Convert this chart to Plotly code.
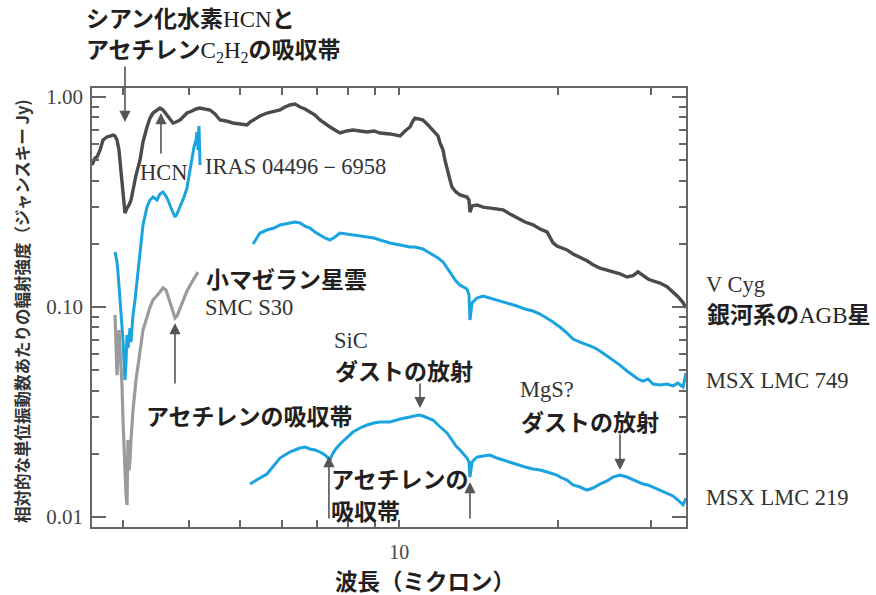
import numpy as np
import plotly.graph_objects as go

# ---- spectra: wavelength (micron) and relative flux density (Jy) ----
VCYG_WL = [2.617, 2.651, 2.675, 2.710, 2.746, 2.770, 2.794, 2.831, 2.868, 2.893,
           2.919, 2.944, 2.957, 2.983, 2.996, 3.022, 3.049, 3.076, 3.103, 3.130,
           3.171, 3.227, 3.269, 3.327, 3.371, 3.415, 3.475, 3.521, 3.568, 3.614,
           3.646, 3.694, 3.727, 3.776, 3.842, 3.910, 3.961, 4.049, 4.120, 4.193,
           4.285, 4.380, 4.476, 4.575, 4.696, 4.842, 4.992, 5.147, 5.215, 5.284,
           5.447, 5.616, 5.791, 5.944, 6.075, 6.209, 6.346, 6.487, 6.630, 6.776,
           6.925, 7.078, 7.234, 7.394, 7.557, 7.724, 7.963, 8.174, 8.428, 8.690,
           8.959, 9.197, 9.607, 10.04, 10.26, 10.48, 10.62, 10.71, 10.90, 11.09,
           11.34, 11.59, 11.85, 11.95, 12.11, 12.21, 12.32, 12.48, 12.59, 12.81,
           13.04, 13.27, 13.44, 13.56, 13.62, 13.74, 14.04, 14.42, 14.86, 15.32,
           15.73, 16.22, 16.72, 17.32, 17.93, 18.49, 19.06, 19.31, 19.57, 19.91,
           20.17, 20.80, 21.35, 22.01, 22.70, 23.30, 24.02, 24.77, 25.42, 26.21,
           27.02, 27.74, 28.35, 28.98, 29.62, 30.27, 31.21, 32.18, 33.03, 33.76,
           34.51, 34.96]
VCYG_F = [0.474, 0.512, 0.518, 0.559, 0.624, 0.638, 0.645, 0.652, 0.659, 0.652,
          0.624, 0.559, 0.501, 0.403, 0.334, 0.280, 0.296, 0.306, 0.323, 0.361,
          0.425, 0.501, 0.611, 0.720, 0.794, 0.839, 0.867, 0.886, 0.867, 0.830,
          0.803, 0.769, 0.752, 0.760, 0.777, 0.812, 0.839, 0.858, 0.877, 0.886,
          0.877, 0.867, 0.830, 0.777, 0.769, 0.752, 0.744, 0.736, 0.760, 0.777,
          0.812, 0.839, 0.858, 0.867, 0.896, 0.916, 0.926, 0.896, 0.877, 0.848,
          0.821, 0.777, 0.744, 0.720, 0.696, 0.674, 0.689, 0.696, 0.689, 0.681,
          0.689, 0.674, 0.667, 0.652, 0.689, 0.720, 0.769, 0.794, 0.786, 0.777,
          0.736, 0.696, 0.652, 0.604, 0.559, 0.501, 0.464, 0.403, 0.373, 0.353,
          0.342, 0.338, 0.334, 0.323, 0.283, 0.303, 0.306, 0.299, 0.296, 0.293,
          0.290, 0.277, 0.265, 0.254, 0.246, 0.235, 0.228, 0.213, 0.202, 0.195,
          0.193, 0.187, 0.179, 0.173, 0.166, 0.159, 0.153, 0.150, 0.147, 0.144,
          0.139, 0.141, 0.147, 0.142, 0.136, 0.133, 0.130, 0.125, 0.118, 0.112,
          0.105, 0.099]

# MSX LMC 749: L-band segment and mid-infrared segment
LMC749_L_WL = [2.893, 2.906, 2.919, 2.931, 2.944, 2.957, 2.970, 2.983, 2.996, 3.009,
               3.022, 3.036, 3.049, 3.062, 3.076, 3.089, 3.103, 3.116, 3.130, 3.157,
               3.185, 3.227, 3.269, 3.327, 3.371, 3.415, 3.475, 3.521, 3.568, 3.614,
               3.646, 3.694, 3.727, 3.759, 3.792, 3.842, 3.910, 3.961, 4.014, 4.049,
               4.084, 4.120, 4.138, 4.156, 4.174, 4.193]
LMC749_L_F = [0.1828, 0.1749, 0.1638, 0.1467, 0.1273, 0.1116, 0.0968, 0.0848, 0.0696, 0.0559,
              0.0449, 0.0547, 0.0735, 0.0638, 0.0760, 0.0794, 0.0681, 0.0812, 0.0916, 0.1080,
              0.1344, 0.1868, 0.2457, 0.2993, 0.3232, 0.3340, 0.3232, 0.3452, 0.3529, 0.3377,
              0.3232, 0.2961, 0.2803, 0.2683, 0.2772, 0.2993, 0.3340, 0.3687, 0.4491, 0.5294,
              0.5780, 0.6241, 0.6813, 0.5593, 0.7276, 0.4745]
LMC749_IR_WL = [5.284, 5.447, 5.616, 5.791, 5.944, 6.075, 6.209, 6.346, 6.487, 6.630,
                6.776, 6.925, 7.078, 7.234, 7.394, 7.557, 7.724, 7.963, 8.174, 8.428,
                8.690, 8.959, 9.197, 9.607, 10.04, 10.48, 10.71, 11.09, 11.34, 11.59,
                11.85, 12.11, 12.32, 12.59, 12.81, 13.04, 13.27, 13.44, 13.56, 13.62,
                13.74, 14.04, 14.42, 14.86, 15.32, 15.73, 16.22, 16.72, 17.32, 17.93,
                18.49, 19.06, 19.57, 19.91, 20.17, 20.80, 21.35, 22.01, 22.70, 23.30,
                24.02, 24.77, 25.42, 26.21, 27.02, 27.74, 28.35, 28.98, 29.62, 30.27,
                31.21, 32.18, 33.03, 33.76, 34.51, 34.96]
LMC749_IR_F = [0.1995, 0.2251, 0.2326, 0.2378, 0.2457, 0.2484, 0.2512, 0.2540, 0.2512, 0.2430,
               0.2378, 0.2276, 0.2202, 0.2131, 0.2085, 0.2154, 0.2251, 0.2226, 0.2202, 0.2178,
               0.2154, 0.2131, 0.2085, 0.2017, 0.1973, 0.1931, 0.1931, 0.1889, 0.1828, 0.1768,
               0.1711, 0.1638, 0.1534, 0.1405, 0.1330, 0.1273, 0.1245, 0.1218, 0.1141, 0.0867,
               0.1045, 0.1104, 0.1128, 0.1104, 0.1080, 0.1056, 0.1033, 0.1011, 0.0978, 0.0957,
               0.0926, 0.0886, 0.0848, 0.0821, 0.0803, 0.0752, 0.0704, 0.0681, 0.0659, 0.0645,
               0.0617, 0.0584, 0.0559, 0.0529, 0.0496, 0.0474, 0.0454, 0.0444, 0.0454, 0.0430,
               0.0425, 0.0430, 0.0421, 0.0434, 0.0416, 0.0485]

# SMC S30 (L-band only)
SMC30_WL = [2.893, 2.906, 2.919, 2.931, 2.944, 2.957, 2.983, 2.996, 3.009, 3.022,
            3.036, 3.049, 3.062, 3.076, 3.089, 3.103, 3.130, 3.171, 3.227, 3.269,
            3.327, 3.371, 3.415, 3.475, 3.521, 3.568, 3.614, 3.646, 3.694, 3.727,
            3.759, 3.792, 3.842, 3.910, 3.961, 4.049, 4.120, 4.156]
SMC30_F = [0.0916, 0.0696, 0.0474, 0.0659, 0.0777, 0.0624, 0.0425, 0.0290, 0.0209, 0.0167,
           0.0127, 0.0114, 0.0233, 0.0167, 0.0187, 0.0233, 0.0323, 0.0449, 0.0624, 0.0777,
           0.0896, 0.1000, 0.1080, 0.1128, 0.1179, 0.1232, 0.1205, 0.1128, 0.1022, 0.0936,
           0.0886, 0.0906, 0.0989, 0.1104, 0.1192, 0.1315, 0.1405, 0.1467]

# MSX LMC 219 (mid-infrared)
LMC219_WL = [5.215, 5.284, 5.447, 5.616, 5.791, 5.944, 6.075, 6.209, 6.346, 6.487,
             6.630, 6.776, 6.925, 7.078, 7.234, 7.330, 7.394, 7.459, 7.557, 7.724,
             7.963, 8.174, 8.428, 8.690, 8.959, 9.197, 9.607, 10.04, 10.48, 10.71,
             10.90, 11.09, 11.34, 11.59, 11.85, 12.11, 12.32, 12.59, 12.81, 13.04,
             13.27, 13.44, 13.56, 13.62, 13.74, 14.04, 14.42, 14.86, 15.32, 15.73,
             16.22, 16.72, 17.32, 17.93, 18.49, 19.06, 19.57, 19.91, 20.17, 20.80,
             21.35, 22.01, 22.70, 23.30, 24.02, 24.77, 25.42, 26.21, 27.02, 27.74,
             28.35, 28.98, 29.62, 30.27, 31.21, 32.18, 33.03, 33.76, 34.51, 34.96]
LMC219_F = [0.01436, 0.01468, 0.01533, 0.01603, 0.01768, 0.01909, 0.01973, 0.02040, 0.02085, 0.02131,
            0.02154, 0.02108, 0.02085, 0.02040, 0.01973, 0.01909, 0.01868, 0.01973, 0.02085, 0.02226,
            0.02404, 0.02539, 0.02654, 0.02742, 0.02803, 0.02834, 0.02834, 0.02929, 0.02994, 0.03027,
            0.03061, 0.03027, 0.02961, 0.02897, 0.02742, 0.02596, 0.02512, 0.02327, 0.02178, 0.02085,
            0.01973, 0.01909, 0.01828, 0.01550, 0.01828, 0.01930, 0.01952, 0.01973, 0.01909, 0.01868,
            0.01828, 0.01788, 0.01730, 0.01692, 0.01675, 0.01638, 0.01603, 0.01585, 0.01550, 0.01500,
            0.01420, 0.01389, 0.01344, 0.01374, 0.01436, 0.01484, 0.01550, 0.01585, 0.01550, 0.01500,
            0.01468, 0.01436, 0.01420, 0.01389, 0.01344, 0.01300, 0.01260, 0.01205, 0.01141, 0.01232]

X_TICKS = [3, 4, 5, 6, 7, 8, 9, 10, 20, 30]
X_TICK_TEXT = ["", "", "", "", "", "", "", "10", "", ""]
Y_TICKS = [0.01, 0.1, 1.0]
Y_TICK_TEXT = ["0.01", "0.10", "1.00"]
Y_MINOR = [0.02, 0.03, 0.04, 0.05, 0.06, 0.07, 0.08, 0.09,
           0.2, 0.3, 0.4, 0.5, 0.6, 0.7, 0.8, 0.9]

DARK = "#4b4b4d"
BLUE = "#1ba3df"
LIGHT = "#9b9b9d"
AXIS = "#666666"
SERIF = "Liberation Serif"
GOTHIC = "Noto Sans CJK JP"

fig = go.Figure()
fig.add_trace(go.Scatter(x=VCYG_WL, y=VCYG_F, mode="lines",
                         line=dict(color=DARK, width=3.4), name="V Cyg"))
fig.add_trace(go.Scatter(x=LMC749_L_WL, y=LMC749_L_F, mode="lines",
                         line=dict(color=BLUE, width=3), name="MSX LMC 749"))
fig.add_trace(go.Scatter(x=LMC749_IR_WL, y=LMC749_IR_F, mode="lines",
                         line=dict(color=BLUE, width=3), name="MSX LMC 749"))
fig.add_trace(go.Scatter(x=SMC30_WL, y=SMC30_F, mode="lines",
                         line=dict(color=LIGHT, width=3.2), name="SMC S30"))
fig.add_trace(go.Scatter(x=LMC219_WL, y=LMC219_F, mode="lines",
                         line=dict(color=BLUE, width=3), name="MSX LMC 219"))

L, R, T, B = 92, 190, 88, 68
W, H = 876, 595
PW, PH = W - L - R, H - T - B


def px(xp):
    return (xp - L) / PW


def py(yp):
    return (H - B - yp) / PH


def serif(s):
    return "<span style=\"font-family:'%s'\">%s</span>" % (SERIF, s)


def label(xp, yp, text, size=23, color="#231f20", family=GOTHIC, **kw):
    fig.add_annotation(x=px(xp), y=py(yp), xref="paper", yref="paper",
                       text=text, showarrow=False, xanchor=kw.pop("xanchor", "left"),
                       yanchor="middle", font=dict(family=family, size=size, color=color),
                       **kw)


SERIF_SIZE = 22.5

# Japanese captions (bold gothic) mixed with serif chemical names
label(84, 17, "<b>シアン化水素</b>" + serif("HCN") + "<b>と</b>")
label(84, 49, "<b>アセチレン</b>" + serif("C<sub>2</sub>H<sub>2</sub>") + "<b>の吸収帯</b>")
label(138, 172, "HCN", size=SERIF_SIZE, color="#333", family=SERIF)
label(203, 166, "IRAS 04496－6958", size=SERIF_SIZE, color="#333", family=SERIF)
label(204, 278, "<b>小マゼラン星雲</b>")
label(203, 307, "SMC S30", size=SERIF_SIZE, color="#333", family=SERIF)
label(144, 415, "<b>アセチレンの吸収帯</b>")
label(332, 340, "SiC", size=SERIF_SIZE, color="#333", family=SERIF)
label(333, 370, "<b>ダストの放射</b>")
label(518, 389, "MgS?", size=SERIF_SIZE, color="#333", family=SERIF)
label(519, 421, "<b>ダストの放射</b>")
label(329, 478, "<b>アセチレンの</b>")
label(329, 510, "<b>吸収帯</b>")
label(704, 284, "V Cyg", size=SERIF_SIZE, color="#333", family=SERIF)
label(705, 313, "<b>銀河系の</b>" + serif("AGB") + "<b>星</b>")
label(704, 380, "MSX LMC 749", size=SERIF_SIZE, color="#333", family=SERIF)
label(704, 497, "MSX LMC 219", size=SERIF_SIZE, color="#333", family=SERIF)

# axis titles
label(425, 580, "<b>波長（ミクロン）</b>", size=22.5, xanchor="center", borderpad=0)
label(22, 311, "<b>相対的な単位振動数あたりの輻射強度（ジャンスキー Jy)</b>",
      size=16.5, color="#333", xanchor="center", textangle=-90)

# arrows: tip position on the spectrum (wavelength, flux) and pixel offset of the tail
ARROWS = [
    (3.022, 0.760, -57),   # 3 micron HCN + C2H2 band, V Cyg
    (3.536, 0.839, 42),    # HCN, V Cyg
    (3.759, 0.0839, 62),   # C2H2 band, SMC S30
    (10.95, 0.0330, -26),  # SiC emission
    (26.21, 0.01675, -37), # MgS emission
    (7.36, 0.01952, 64),   # 7.5 micron C2H2
    (13.62, 0.01468, 38),  # 13.7 micron C2H2
]
for wl, fl, off in ARROWS:
    fig.add_annotation(x=np.log10(wl), y=np.log10(fl), xref="x", yref="y",
                       text="", showarrow=True, ax=0, ay=off,
                       arrowhead=2, arrowsize=1.4, arrowwidth=1.6,
                       arrowcolor="#555555", standoff=0)

fig.update_xaxes(type="log", range=[np.log10(2.617), np.log10(34.96)],
                 tickvals=X_TICKS, ticktext=X_TICK_TEXT,
                 ticks="inside", ticklen=7, tickwidth=1.5, tickcolor=AXIS,
                 showline=True, linecolor=AXIS, linewidth=1.6, mirror="ticks",
                 showgrid=False, zeroline=False, ticklabelstandoff=6,
                 tickfont=dict(family=SERIF, size=20, color="#444"))
fig.update_yaxes(type="log", range=[-2.0476, 0.0429],
                 tickvals=Y_TICKS, ticktext=Y_TICK_TEXT,
                 ticks="inside", ticklen=14, tickwidth=1.5, tickcolor=AXIS,
                 minor=dict(tickvals=Y_MINOR, ticks="inside", ticklen=7,
                            tickwidth=1.5, tickcolor=AXIS, showgrid=False),
                 showline=True, linecolor=AXIS, linewidth=1.6, mirror="ticks",
                 showgrid=False, zeroline=False, ticklabelstandoff=3,
                 tickfont=dict(family=SERIF, size=21, color="#444"))

fig.update_layout(width=W, height=H, autosize=False,
                  margin=dict(l=L, r=R, t=T, b=B),
                  paper_bgcolor="white", plot_bgcolor="white",
                  showlegend=False,
                  font=dict(family=GOTHIC, color="#231f20"))

fig.write_html("out.html")
